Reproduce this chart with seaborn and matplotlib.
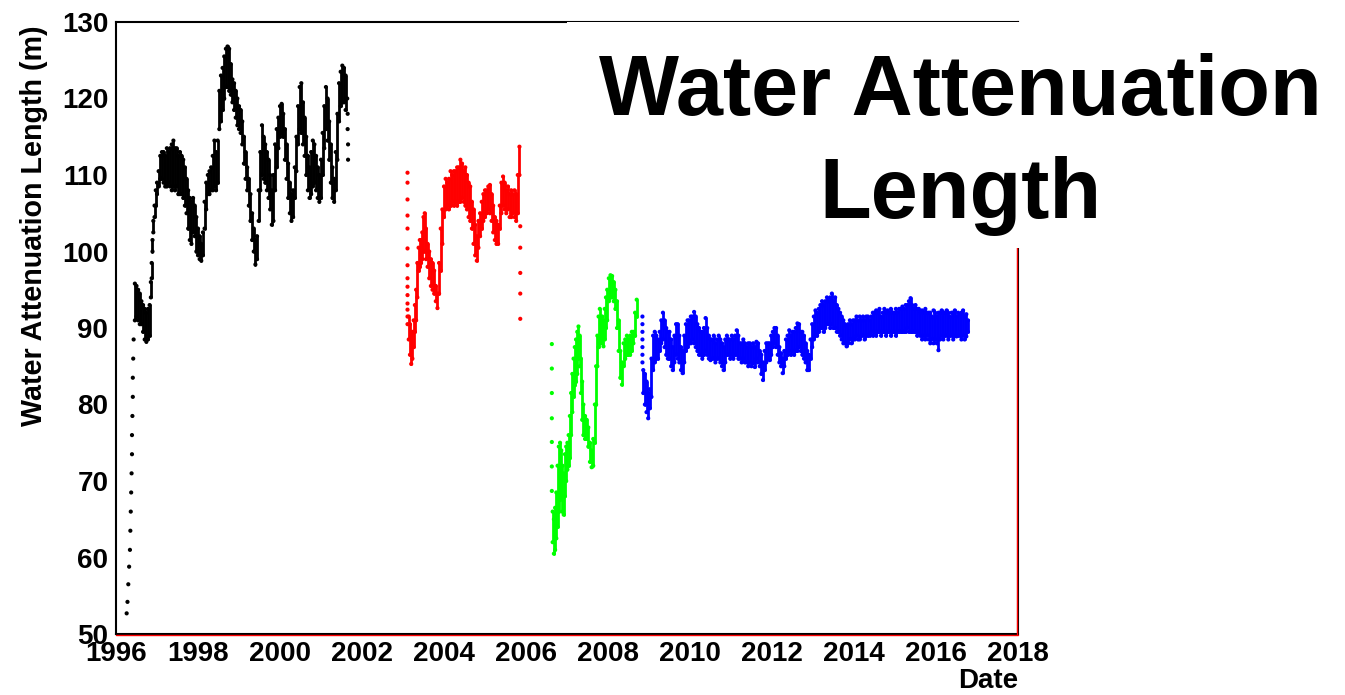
import matplotlib
matplotlib.use("Agg")
import matplotlib.pyplot as plt
import matplotlib.transforms as mtransforms
from matplotlib.patches import Rectangle
from matplotlib.ticker import MultipleLocator
import pandas as pd
import seaborn as sns

# ---------------------------------------------------------------------------
# Water attenuation length (m) versus date, four running periods.
# Each period: a band (low / high envelope per date) plus isolated points
# recorded while the value was moving quickly.
# ---------------------------------------------------------------------------

# --- period 1 (black) ---
black_year = [
    1996.46, 1996.50, 1996.54, 1996.58, 1996.62, 1996.66, 1996.70, 1996.74, 1996.78, 1996.82,
    1996.85, 1996.87, 1996.89, 1996.91, 1996.94, 1996.97, 1997.00, 1997.04, 1997.08, 1997.12,
    1997.16, 1997.20, 1997.24, 1997.28, 1997.32, 1997.36, 1997.40, 1997.44, 1997.48, 1997.52,
    1997.56, 1997.60, 1997.64, 1997.68, 1997.72, 1997.76, 1997.80, 1997.84, 1997.88, 1997.92,
    1997.96, 1998.00, 1998.04, 1998.08, 1998.12, 1998.16, 1998.20, 1998.24, 1998.28, 1998.32,
    1998.36, 1998.40, 1998.44, 1998.48, 1998.52, 1998.56, 1998.60, 1998.64, 1998.68, 1998.72,
    1998.76, 1998.80, 1998.84, 1998.88, 1998.92, 1998.96, 1999.00, 1999.04, 1999.08, 1999.12,
    1999.16, 1999.20, 1999.24, 1999.28, 1999.32, 1999.36, 1999.40, 1999.44, 1999.48, 1999.52,
    1999.56, 1999.60, 1999.64, 1999.68, 1999.72, 1999.76, 1999.80, 1999.84, 1999.88, 1999.92,
    1999.96, 2000.00, 2000.04, 2000.08, 2000.12, 2000.16, 2000.20, 2000.24, 2000.28, 2000.32,
    2000.36, 2000.40, 2000.44, 2000.48, 2000.52, 2000.56, 2000.60, 2000.64, 2000.68, 2000.72,
    2000.76, 2000.80, 2000.84, 2000.88, 2000.92, 2000.96, 2001.00, 2001.04, 2001.08, 2001.12,
    2001.16, 2001.20, 2001.24, 2001.28, 2001.32, 2001.36, 2001.40, 2001.44, 2001.48, 2001.52,
    2001.56, 2001.60,
]
black_lo = [
    91.0, 91.5, 91.0, 90.5, 90.5, 89.5, 88.5, 88.2, 88.5, 89.0,
    94.0, 96.5, 100.0, 102.5, 104.5, 106.0, 107.5, 108.5, 109.5, 109.5,
    109.0, 108.5, 108.5, 109.0, 108.5, 108.0, 108.5, 108.0, 108.5, 107.5,
    107.5, 107.5, 107.0, 106.0, 105.0, 103.0, 101.5, 101.0, 102.5, 102.0,
    100.0, 99.5, 99.0, 98.8, 99.5, 103.0, 105.5, 107.5, 107.5, 108.0,
    108.0, 108.5, 108.0, 109.0, 116.0, 117.0, 118.5, 120.0, 121.5, 121.5,
    121.0, 120.5, 119.5, 118.5, 117.5, 116.5, 116.0, 115.5, 114.0, 111.5,
    109.5, 108.0, 106.0, 104.0, 101.5, 100.0, 98.3, 99.0, 104.0, 108.0,
    110.0, 109.5, 109.0, 108.0, 107.0, 105.5, 103.5, 104.0, 108.0, 111.0,
    113.5, 115.0, 115.5, 115.0, 112.0, 109.5, 107.0, 105.0, 104.0, 104.5,
    107.0, 110.5, 114.0, 116.0, 115.5, 114.0, 112.5, 110.0, 108.0, 107.0,
    107.5, 108.5, 109.0, 108.0, 107.0, 106.5, 107.0, 110.0, 113.5, 116.0,
    114.5, 112.0, 109.0, 107.0, 106.5, 108.0, 112.0, 117.0, 119.0, 119.5,
    119.5, 118.5,
]
black_hi = [
    95.8, 95.5, 95.0, 94.5, 93.5, 93.0, 92.5, 92.0, 92.5, 93.0,
    96.0, 98.5, 101.5, 104.0, 106.0, 108.0, 109.0, 110.5, 112.5, 113.0,
    113.0, 112.5, 113.5, 113.0, 113.5, 114.0, 114.5, 113.5, 113.5, 112.5,
    113.0, 112.5, 112.0, 111.0, 109.5, 108.0, 107.0, 106.5, 107.0, 106.0,
    104.5, 103.0, 102.0, 101.0, 102.5, 106.5, 109.0, 110.0, 110.5, 111.0,
    112.5, 114.5, 113.0, 114.5, 121.0, 123.0, 124.0, 125.5, 126.5, 126.8,
    126.5, 124.5, 122.5, 122.0, 121.0, 120.0, 119.0, 118.5, 117.0, 115.0,
    113.0, 111.0, 109.5, 107.5, 105.0, 103.0, 101.5, 102.0, 108.0, 113.0,
    116.5, 115.0, 114.0, 113.0, 112.0, 110.0, 108.0, 110.0, 114.0, 116.0,
    117.5, 119.0, 119.3, 118.0, 116.0, 114.0, 111.5, 109.0, 107.5, 108.0,
    111.0, 115.0, 119.0, 121.5, 122.0, 119.5, 117.5, 115.0, 112.5, 111.0,
    113.0, 114.5, 114.0, 112.5, 111.0, 110.0, 112.0, 115.5, 119.0, 121.5,
    120.0, 117.0, 114.0, 111.0, 109.5, 113.0, 118.0, 122.0, 123.5, 124.3,
    124.0, 123.0,
]
black_pt_year = [
    1996.26, 1996.28, 1996.30, 1996.32, 1996.34, 1996.35, 1996.36, 1996.37, 1996.38, 1996.39,
    1996.39, 1996.40, 1996.41, 1996.41, 1996.42, 1996.43, 2001.64, 2001.65, 2001.65, 2001.66,
    2001.66,
]
black_pt_val = [
    52.7, 54.2, 56.5, 58.8, 61.0, 63.5, 66.0, 68.5, 71.0, 73.5,
    76.0, 78.5, 81.0, 83.5, 86.0, 88.5, 120.0, 118.0, 116.0, 114.0,
    112.0,
]

# --- period 2 (red) ---
red_year = [
    2003.14, 2003.17, 2003.20, 2003.23, 2003.26, 2003.29, 2003.32, 2003.35, 2003.38, 2003.41,
    2003.44, 2003.47, 2003.50, 2003.53, 2003.56, 2003.60, 2003.64, 2003.68, 2003.72, 2003.76,
    2003.80, 2003.84, 2003.88, 2003.92, 2003.96, 2004.00, 2004.04, 2004.08, 2004.12, 2004.16,
    2004.20, 2004.24, 2004.28, 2004.32, 2004.36, 2004.40, 2004.44, 2004.48, 2004.52, 2004.56,
    2004.60, 2004.64, 2004.68, 2004.72, 2004.76, 2004.80, 2004.84, 2004.88, 2004.92, 2004.96,
    2005.00, 2005.04, 2005.08, 2005.12, 2005.16, 2005.20, 2005.24, 2005.28, 2005.32, 2005.36,
    2005.40, 2005.44, 2005.48, 2005.52, 2005.56, 2005.60, 2005.64, 2005.68, 2005.72, 2005.76,
    2005.80, 2005.84,
]
red_lo = [
    88.5, 86.5, 85.3, 86.0, 87.5, 89.5, 91.0, 94.0, 97.5, 98.0,
    98.5, 99.0, 100.0, 100.0, 99.0, 98.0, 96.5, 95.5, 95.0, 94.5,
    93.5, 92.6, 94.5, 97.5, 101.0, 104.5, 105.5, 106.0, 105.5, 106.0,
    106.5, 106.0, 106.5, 106.0, 106.5, 106.5, 107.0, 106.5, 106.0, 105.5,
    104.5, 104.0, 103.0, 101.0, 99.5, 98.8, 100.5, 102.0, 103.0, 104.0,
    104.5, 105.0, 105.5, 105.0, 104.0, 102.5, 101.5, 101.0, 101.0, 103.0,
    105.0, 106.0, 105.5, 105.0, 105.5, 104.5, 104.5, 105.0, 104.5, 104.0,
    105.0, 110.0,
]
red_hi = [
    91.5, 90.5, 89.0, 89.5, 91.0, 93.0, 95.0, 98.5, 100.5, 101.5,
    101.5, 102.5, 104.5, 105.0, 103.0, 101.0, 100.0, 99.0, 98.5, 97.5,
    95.5, 94.5, 98.5, 103.0, 105.5, 108.5, 109.5, 109.0, 109.5, 110.5,
    110.0, 110.5, 110.5, 111.0, 111.0, 112.0, 111.5, 110.5, 111.0, 110.0,
    109.0, 108.5, 106.5, 105.5, 103.5, 102.0, 104.0, 105.0, 106.5, 107.5,
    108.0, 108.0, 108.5, 108.7, 107.5, 106.0, 104.5, 104.0, 103.5, 106.0,
    109.0, 109.8, 109.0, 108.0, 108.5, 107.5, 108.0, 107.5, 108.0, 107.5,
    110.0, 113.7,
]
red_pt_year = [
    2003.11, 2003.11, 2003.11, 2003.11, 2003.11, 2003.11, 2003.11, 2003.11, 2003.11, 2003.11,
    2003.11, 2003.11, 2003.11, 2003.11, 2005.86, 2005.86, 2005.86, 2005.86, 2005.86,
]
red_pt_val = [
    110.3, 109.0, 106.8, 104.7, 103.0, 100.4, 98.2, 96.5, 95.4, 94.3,
    93.2, 92.4, 91.5, 90.5, 103.3, 100.5, 97.2, 94.5, 91.2,
]

# --- period 3 (green) ---
green_year = [
    2006.65, 2006.68, 2006.71, 2006.74, 2006.77, 2006.80, 2006.83, 2006.86, 2006.89, 2006.92,
    2006.95, 2006.98, 2007.01, 2007.04, 2007.07, 2007.10, 2007.13, 2007.16, 2007.19, 2007.22,
    2007.25, 2007.28, 2007.31, 2007.34, 2007.37, 2007.40, 2007.44, 2007.48, 2007.52, 2007.56,
    2007.60, 2007.64, 2007.68, 2007.71, 2007.74, 2007.77, 2007.80, 2007.83, 2007.86, 2007.89,
    2007.92, 2007.95, 2007.98, 2008.02, 2008.06, 2008.10, 2008.14, 2008.18, 2008.22, 2008.26,
    2008.30, 2008.34, 2008.38, 2008.42, 2008.46, 2008.50, 2008.54, 2008.58, 2008.62, 2008.66,
    2008.70,
]
green_lo = [
    62.0, 60.5, 61.0, 62.5, 64.0, 66.0, 67.5, 68.0, 66.0, 65.6,
    68.0, 70.0, 71.5, 72.0, 73.0, 76.0, 79.0, 81.0, 82.5, 83.0,
    84.0, 86.0, 85.0, 81.5, 78.0, 76.0, 75.5, 75.5, 74.5, 72.5,
    71.8, 72.0, 75.0, 80.0, 85.0, 87.5, 88.0, 88.5, 88.0, 87.6,
    88.5, 90.0, 91.0, 93.5, 94.0, 94.0, 93.5, 92.5, 90.0, 87.0,
    83.5, 82.6, 85.0, 86.0, 86.5, 86.5, 86.5, 87.0, 88.0, 89.0,
    91.5,
]
green_hi = [
    66.0, 65.0, 66.5, 68.5, 72.0, 74.5, 75.0, 74.0, 72.0, 71.0,
    73.5, 74.5, 75.0, 76.0, 78.5, 81.5, 84.0, 86.0, 87.5, 88.5,
    89.5, 90.2, 89.0, 86.0, 83.0, 80.0, 78.5, 78.0, 77.0, 75.0,
    74.0, 75.5, 80.0, 85.0, 89.0, 91.5, 92.5, 91.5, 91.5, 91.0,
    92.5, 94.0, 95.0, 96.5, 96.9, 96.8, 96.0, 95.0, 93.5, 91.0,
    87.0, 85.5, 88.0, 88.5, 89.0, 88.5, 89.0, 89.5, 89.5, 92.0,
    93.7,
]
green_pt_year = [2006.63, 2006.63, 2006.63, 2006.63, 2006.63, 2006.63, 2006.63]
green_pt_val = [87.9, 84.7, 81.5, 78.2, 75.1, 71.9, 68.7]

# --- period 4 (blue) ---
blue_year = [
    2008.86, 2008.90, 2008.94, 2008.98, 2009.02, 2009.06, 2009.10, 2009.14, 2009.18, 2009.22,
    2009.26, 2009.30, 2009.34, 2009.38, 2009.42, 2009.46, 2009.50, 2009.54, 2009.58, 2009.62,
    2009.66, 2009.70, 2009.74, 2009.78, 2009.82, 2009.86, 2009.90, 2009.94, 2009.98, 2010.02,
    2010.06, 2010.10, 2010.14, 2010.18, 2010.22, 2010.26, 2010.30, 2010.34, 2010.38, 2010.42,
    2010.46, 2010.50, 2010.54, 2010.58, 2010.62, 2010.66, 2010.70, 2010.74, 2010.78, 2010.82,
    2010.86, 2010.90, 2010.94, 2010.98, 2011.02, 2011.06, 2011.10, 2011.14, 2011.18, 2011.22,
    2011.26, 2011.30, 2011.34, 2011.38, 2011.42, 2011.46, 2011.50, 2011.54, 2011.58, 2011.62,
    2011.66, 2011.70, 2011.74, 2011.78, 2011.82, 2011.86, 2011.90, 2011.94, 2011.98, 2012.02,
    2012.06, 2012.10, 2012.14, 2012.18, 2012.22, 2012.26, 2012.30, 2012.34, 2012.38, 2012.42,
    2012.46, 2012.50, 2012.54, 2012.58, 2012.62, 2012.66, 2012.70, 2012.74, 2012.78, 2012.82,
    2012.86, 2012.90, 2012.94, 2012.98, 2013.02, 2013.06, 2013.10, 2013.14, 2013.18, 2013.22,
    2013.26, 2013.30, 2013.34, 2013.38, 2013.42, 2013.46, 2013.50, 2013.54, 2013.58, 2013.62,
    2013.66, 2013.70, 2013.74, 2013.78, 2013.82, 2013.86, 2013.90, 2013.94, 2013.98, 2014.02,
    2014.06, 2014.10, 2014.14, 2014.18, 2014.22, 2014.26, 2014.30, 2014.34, 2014.38, 2014.42,
    2014.46, 2014.50, 2014.54, 2014.58, 2014.62, 2014.66, 2014.70, 2014.74, 2014.78, 2014.82,
    2014.86, 2014.90, 2014.94, 2014.98, 2015.02, 2015.06, 2015.10, 2015.14, 2015.18, 2015.22,
    2015.26, 2015.30, 2015.34, 2015.38, 2015.42, 2015.46, 2015.50, 2015.54, 2015.58, 2015.62,
    2015.66, 2015.70, 2015.74, 2015.78, 2015.82, 2015.86, 2015.90, 2015.94, 2015.98, 2016.02,
    2016.06, 2016.10, 2016.14, 2016.18, 2016.22, 2016.26, 2016.30, 2016.34, 2016.38, 2016.42,
    2016.46, 2016.50, 2016.54, 2016.58, 2016.62, 2016.66, 2016.70, 2016.74, 2016.78,
]
blue_lo = [
    81.5, 80.0, 79.0, 78.2, 79.5, 81.0, 84.5, 85.5, 86.0, 86.0,
    87.0, 88.0, 88.5, 87.5, 86.5, 86.0, 86.0, 85.0, 84.5, 85.5,
    86.5, 86.0, 85.5, 84.5, 84.1, 85.5, 87.0, 87.5, 88.0, 88.0,
    88.5, 88.0, 87.5, 87.0, 86.5, 86.5, 86.0, 86.5, 87.0, 86.5,
    86.0, 85.8, 86.0, 86.0, 85.5, 86.0, 86.0, 85.5, 85.0, 84.5,
    85.5, 86.5, 86.5, 86.0, 86.5, 86.0, 86.5, 86.5, 86.0, 86.0,
    85.5, 86.0, 85.5, 85.5, 85.0, 85.5, 85.0, 85.4, 84.9, 86.0,
    85.5, 85.0, 84.0, 83.2, 84.5, 85.5, 86.0, 85.8, 86.5, 87.5,
    88.0, 87.5, 86.5, 85.5, 85.0, 84.1, 85.0, 86.0, 86.5, 87.0,
    86.5, 87.0, 86.5, 87.0, 87.0, 87.5, 87.0, 86.5, 86.0, 85.5,
    84.5, 84.5, 86.0, 87.5, 88.5, 89.0, 89.0, 89.5, 90.0, 90.0,
    89.5, 90.0, 90.5, 90.5, 90.0, 90.5, 90.0, 90.0, 89.5, 89.5,
    89.0, 88.5, 88.0, 88.0, 87.6, 88.0, 88.5, 88.0, 88.5, 88.5,
    89.0, 88.5, 88.5, 89.0, 89.0, 88.5, 89.0, 89.0, 89.0, 89.5,
    89.0, 89.5, 89.0, 89.5, 89.5, 89.0, 89.5, 89.5, 89.0, 89.5,
    89.5, 89.0, 89.5, 89.5, 89.0, 89.5, 89.5, 89.5, 89.5, 89.5,
    89.5, 90.0, 89.5, 89.5, 89.5, 89.5, 89.5, 89.0, 89.5, 89.0,
    88.5, 89.0, 88.5, 89.0, 88.5, 88.0, 88.5, 88.0, 88.5, 88.0,
    87.1, 88.5, 89.0, 88.5, 89.0, 89.0, 88.5, 89.0, 89.0, 88.5,
    89.0, 88.9, 89.0, 89.0, 88.5, 89.0, 88.5, 88.9, 89.5,
]
blue_hi = [
    84.5, 84.0, 83.0, 81.5, 82.0, 86.0, 89.0, 89.5, 89.0, 88.5,
    89.5, 91.0, 92.0, 91.0, 90.0, 89.5, 89.5, 88.5, 87.5, 89.0,
    90.5, 90.5, 89.0, 87.5, 87.0, 89.0, 90.5, 91.0, 91.0, 91.5,
    91.5, 92.1, 91.5, 90.5, 90.0, 89.5, 89.5, 90.0, 91.3, 90.0,
    89.0, 88.5, 88.5, 89.0, 88.0, 88.5, 89.0, 88.5, 88.0, 87.5,
    88.5, 89.0, 88.5, 88.5, 89.0, 88.5, 89.0, 89.7, 89.0, 88.0,
    88.0, 88.5, 88.0, 87.5, 88.0, 88.0, 87.5, 88.0, 87.5, 88.2,
    88.0, 87.0, 86.5, 85.5, 87.0, 88.0, 88.0, 88.0, 89.0, 89.5,
    90.0, 90.0, 89.0, 87.5, 86.7, 86.0, 87.0, 88.5, 89.0, 89.7,
    89.0, 89.5, 89.5, 90.0, 90.6, 90.5, 89.5, 89.5, 89.0, 88.0,
    87.0, 86.5, 88.5, 90.5, 91.5, 92.3, 92.0, 92.5, 93.0, 93.5,
    93.0, 93.5, 94.0, 93.5, 94.0, 94.5, 93.5, 94.0, 93.0, 92.5,
    92.0, 91.5, 91.0, 90.5, 90.2, 90.5, 91.0, 90.5, 91.0, 91.0,
    91.5, 91.0, 91.5, 91.0, 91.5, 91.0, 91.5, 91.5, 91.0, 91.5,
    92.0, 92.0, 92.3, 92.0, 92.5, 91.5, 92.0, 92.5, 92.0, 92.3,
    92.0, 92.5, 92.0, 92.0, 92.5, 92.0, 92.5, 92.5, 92.8, 92.5,
    93.0, 93.0, 93.5, 93.9, 93.0, 92.5, 93.0, 92.5, 92.5, 92.0,
    92.3, 92.0, 92.5, 92.0, 92.0, 92.0, 91.5, 92.3, 92.0, 91.5,
    92.0, 92.0, 92.3, 92.0, 92.0, 92.3, 92.0, 91.5, 92.0, 92.0,
    92.3, 91.5, 92.0, 91.8, 92.0, 92.3, 91.5, 91.8, 91.0,
]
blue_pt_year = [2008.84, 2008.84, 2008.84, 2008.84, 2008.84, 2008.84, 2008.84]
blue_pt_val = [91.5, 90.5, 89.5, 88.5, 87.5, 86.5, 85.5]

period_colors = {"1": "#000000", "2": "#ff0000", "3": "#00ff00", "4": "#0000ff"}

# --------------------------------------------------------------------------
sns.set_style("white")
plt.rcParams["font.family"] = ["Liberation Sans", "DejaVu Sans"]
plt.rcParams["font.weight"] = "bold"
plt.rcParams["axes.labelweight"] = "bold"
plt.rcParams["text.color"] = "black"
plt.rcParams["axes.labelcolor"] = "black"
plt.rcParams["xtick.color"] = "black"
plt.rcParams["ytick.color"] = "black"
plt.rcParams["xtick.labelcolor"] = "black"
plt.rcParams["ytick.labelcolor"] = "black"

W, H = 1345, 695
fig = plt.figure(figsize=(W / 100, H / 100), dpi=100)
ax = fig.add_axes([116 / W, 61 / H, 902 / W, 612 / H])

periods = [
    ("1", black_year, black_lo, black_hi, black_pt_year, black_pt_val),
    ("2", red_year, red_lo, red_hi, red_pt_year, red_pt_val),
    ("3", green_year, green_lo, green_hi, green_pt_year, green_pt_val),
    ("4", blue_year, blue_lo, blue_hi, blue_pt_year, blue_pt_val),
]

frames = []
for key, yr, lo, hi, pyr, pval in periods:
    col = period_colors[key]
    ax.vlines(yr, lo, hi, colors=col, linewidth=2.0, capstyle="round", zorder=2)
    frames.append(pd.DataFrame({"year": list(yr) + list(yr), "value": list(lo) + list(hi), "period": key}))
    frames.append(pd.DataFrame({"year": pyr, "value": pval, "period": key}))
points = pd.concat(frames, ignore_index=True)

sns.scatterplot(data=points, x="year", y="value", hue="period", palette=period_colors,
                s=9, linewidth=0, legend=False, ax=ax, zorder=3)

ax.set_xlim(1996, 2018)
ax.set_ylim(50, 130)

ax.xaxis.set_major_locator(MultipleLocator(2))
ax.xaxis.set_minor_locator(MultipleLocator(0.5))
ax.yaxis.set_major_locator(MultipleLocator(10))
ax.yaxis.set_minor_locator(MultipleLocator(2))
ax.tick_params(which="both", direction="in", top=False, right=False, width=1.1, color="black")
ax.tick_params(axis="x", which="major", length=12, pad=5.0, labelsize=20, labelcolor="black")
ax.tick_params(axis="x", which="minor", length=5.8)
ax.tick_params(axis="y", which="major", length=19.5, pad=5.5, labelsize=20, labelcolor="black")
ax.tick_params(axis="y", which="minor", length=9.4)
for lab in ax.get_xticklabels() + ax.get_yticklabels():
    lab.set_fontweight("bold")

for side in ("left", "bottom", "top", "right"):
    ax.spines[side].set_visible(True)
    ax.spines[side].set_color("black")
    ax.spines[side].set_linewidth(1.5)

# thin red frame line drawn just beside the bottom and right edges
down = mtransforms.ScaledTranslation(0, -1.0 / 72, fig.dpi_scale_trans)
left = mtransforms.ScaledTranslation(-1.0 / 72, 0, fig.dpi_scale_trans)
ax.plot([1996, 2018], [50, 50], color="red", lw=1.0, transform=ax.transData + down,
        clip_on=False, zorder=4)
ax.plot([2018, 2018], [50, 130], color="red", lw=1.0, transform=ax.transData + left,
        clip_on=False, zorder=4)

ax.set_ylabel("Water Attenuation Length (m)", loc="top", fontsize=20.6, fontweight="bold",
              color="black")
ax.yaxis.set_label_coords(-0.0754, 0.995)
ax.set_xlabel("Date", loc="right", fontsize=20, fontweight="bold", color="black")
ax.xaxis.set_label_coords(1.0, -0.0556)

# title panel
panel = Rectangle((567 / W, (H - 248) / H), 1 - 567 / W, (248 - 22.4) / H,
                  transform=fig.transFigure, facecolor="white", edgecolor="none", zorder=10)
fig.add_artist(panel)
fig.text(960 / W, (H - 115) / H, "Water Attenuation", ha="center", va="baseline",
         fontsize=61, fontweight="bold", color="black", zorder=11)
fig.text(960 / W, (H - 218) / H, "Length", ha="center", va="baseline",
         fontsize=61, fontweight="bold", color="black", zorder=11)

fig.savefig("out.png", dpi=100, facecolor="white")
